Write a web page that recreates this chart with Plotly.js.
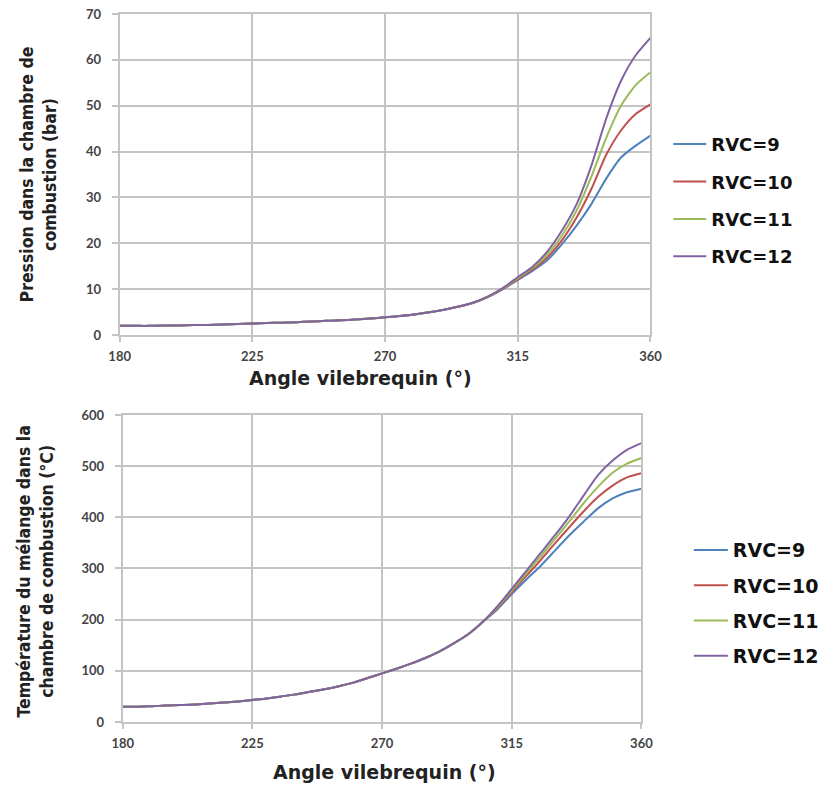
<!DOCTYPE html>
<html>
<head>
<meta charset="utf-8">
<script src="https://cdn.plot.ly/plotly-3.0.1.min.js"></script>
<style>html,body{margin:0;padding:0;background:#fff}#chart{width:824px;height:787px}</style>
</head>
<body>
<div id="chart"></div>
<script>
const angles = [180,185,190,195,200,205,210,215,220,225,230,235,240,245,250,255,260,265,270,275,280,285,290,295,300,305,310,315,320,325,330,335,340,345,350,355,360];
const seriesNames = ['RVC=9','RVC=10','RVC=11','RVC=12'];
const seriesColors = ['#4F81BD','#C0504D','#9BBB59','#8064A2'];
const xTicks = [180,225,270,315,360];
const xTitle = 'Angle vilebrequin (°)';
const pTitle = 'Pression dans la chambre de<br>combustion (bar)';
const tTitle = 'Température du mélange dans la<br>chambre de combustion (°C)';

// Pressure (bar)
const pRVC9  = [2.0,2.0,2.0,2.1,2.1,2.2,2.2,2.3,2.4,2.5,2.6,2.7,2.8,2.95,3.1,3.2,3.4,3.6,3.85,4.15,4.5,4.95,5.5,6.2,7.05,8.3,10.0,12.0,14.0,16.3,19.8,23.9,28.6,34.1,38.7,41.3,43.5];
const pRVC10 = [2.0,2.0,2.0,2.1,2.1,2.2,2.2,2.3,2.4,2.5,2.6,2.7,2.8,2.95,3.1,3.2,3.4,3.6,3.85,4.15,4.5,4.95,5.5,6.2,7.05,8.35,10.1,12.2,14.3,16.9,20.7,25.7,31.9,39.3,44.6,48.2,50.3];
const pRVC11 = [2.0,2.0,2.0,2.1,2.1,2.2,2.2,2.3,2.4,2.5,2.6,2.7,2.8,2.95,3.1,3.2,3.4,3.6,3.85,4.15,4.5,4.95,5.5,6.2,7.1,8.4,10.2,12.4,14.6,17.5,21.7,27.2,34.6,43.0,50.0,54.5,57.3];
const pRVC12 = [2.0,2.0,2.0,2.1,2.1,2.2,2.2,2.3,2.4,2.5,2.6,2.7,2.8,2.95,3.1,3.2,3.4,3.6,3.85,4.15,4.5,4.95,5.5,6.2,7.1,8.45,10.3,12.6,14.9,18.2,22.8,28.6,37.0,47.2,55.4,61.0,64.8];

// Temperature (°C)
const tRVC9  = [30,30,31,32,33,34,36,38,40,43,46,50,54,59,64,70,77,86,95,104,114,125,138,154,172,196,220,250,278,305,335,365,392,418,437,449,456];
const tRVC10 = [30,30,31,32,33,34,36,38,40,43,46,50,54,59,64,70,77,86,95,104,114,125,138,154,172,196,222,254,285,316,349,381,412,440,462,478,486];
const tRVC11 = [30,30,31,32,33,34,36,38,40,43,46,50,54,59,64,70,77,86,95,104,114,125,138,154,172,196,224,257,290,323,358,392,428,460,487,505,516];
const tRVC12 = [30,30,31,32,33,34,36,38,40,43,46,50,54,59,64,70,77,86,95,104,114,125,138,154,172,196,226,260,295,330,365,402,443,483,511,532,545];

const pSeries = [pRVC9,pRVC10,pRVC11,pRVC12];
const tSeries = [tRVC9,tRVC10,tRVC11,tRVC12];

const traces = [];
pSeries.forEach((ys,i)=>{
  traces.push({x:angles,y:ys,type:'scatter',mode:'lines',name:seriesNames[i],
    line:{color:seriesColors[i],width:2,shape:'spline',smoothing:0.6},
    xaxis:'x',yaxis:'y',legend:'legend',legendgroup:'p'+i});
});
tSeries.forEach((ys,i)=>{
  traces.push({x:angles,y:ys,type:'scatter',mode:'lines',name:seriesNames[i],
    line:{color:seriesColors[i],width:2,shape:'spline',smoothing:0.6},
    xaxis:'x2',yaxis:'y2',legend:'legend2',legendgroup:'t'+i});
});

const gridC = '#c4c4c4';
const tickFont = {family:'Lato, "Liberation Sans", sans-serif',size:13,color:'#444444',weight:'bold'};
const xTitleFont = {family:'"DejaVu Sans", sans-serif',size:19,color:'#222',weight:'bold'};
const yTitleFont = {family:'"DejaVu Sans Condensed", "DejaVu Sans", sans-serif',size:17.5,color:'#222',weight:'bold'};
function xAx(domain, anchor){
  return {domain:domain,anchor:anchor,range:[180,360],tickvals:xTicks,ticktext:xTicks.map(String),
    showgrid:true,gridcolor:gridC,gridwidth:2,showline:true,linecolor:gridC,linewidth:2,mirror:true,
    ticks:'outside',ticklen:5,tickcolor:gridC,tickwidth:2,tickfont:tickFont,zeroline:false,ticklabelstandoff:3};
}
function yAx(domain, anchor, range, dtick){
  return {domain:domain,anchor:anchor,range:range,dtick:dtick,tick0:0,
    showgrid:true,gridcolor:gridC,gridwidth:2,showline:true,linecolor:gridC,linewidth:2,mirror:true,
    ticks:'outside',ticklen:6,tickcolor:gridC,tickwidth:2,tickfont:tickFont,zeroline:false,ticklabelstandoff:8};
}
const W=824, H=787;
function ann(text, px, py, font, angle){
  return {text:text,x:px/W,y:1-py/H,xref:'paper',yref:'paper',xanchor:'center',yanchor:'middle',
    showarrow:false,font:font,textangle:angle||0};
}
const layout = {
  width:W,height:H,margin:{l:0,r:0,t:0,b:0},
  paper_bgcolor:'#fff',plot_bgcolor:'#fff',
  xaxis:xAx([0.1456,0.7913],'y'),
  yaxis:yAx([0.5743,0.9822],'x',[0,70],10),
  xaxis2:xAx([0.1493,0.7803],'y2'),
  yaxis2:yAx([0.0826,0.4727],'x2',[0,600],100),
  annotations:[
    ann(xTitle,361,378,xTitleFont),
    ann(xTitle,385,772,xTitleFont),
    ann(pTitle,38.5,174,yTitleFont,-90),
    ann(tTitle,35.5,571,yTitleFont,-90)
  ],
  legend:{x:0.813,y:0.84,xanchor:'left',yanchor:'top',itemwidth:33,font:{family:'"DejaVu Sans", sans-serif',size:18,color:'#111',weight:'bold'},
    tracegroupgap:11,bgcolor:'rgba(0,0,0,0)'},
  legend2:{x:0.838,y:0.325,xanchor:'left',yanchor:'top',itemwidth:34,font:{family:'"DejaVu Sans", sans-serif',size:19,color:'#111',weight:'bold'},
    tracegroupgap:7.5,bgcolor:'rgba(0,0,0,0)'},
  showlegend:true
};
Plotly.newPlot('chart',traces,layout,{displayModeBar:false,staticPlot:true});
</script>
</body>
</html>
